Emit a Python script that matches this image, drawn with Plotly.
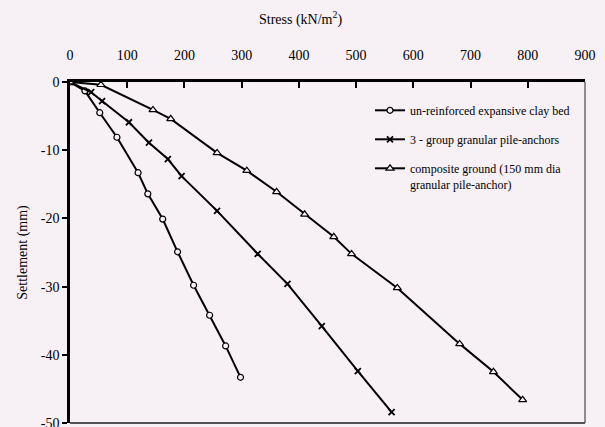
import plotly.graph_objects as go

# Stress (kN/m^2) vs settlement (mm) for three ground conditions
stress_clay = [0, 26, 52, 82, 119, 136, 162, 188, 216, 244, 272, 298]
settle_clay = [0, -1.3, -4.5, -8.1, -13.3, -16.4, -20.1, -24.9, -29.8, -34.2, -38.7, -43.3]

stress_group = [0, 37, 56, 103, 138, 171, 195, 257, 328, 380, 440, 503, 562]
settle_group = [0, -1.5, -2.8, -5.9, -8.9, -11.3, -13.8, -18.9, -25.2, -29.6, -35.8, -42.4, -48.4]

stress_comp = [0, 54, 145, 176, 257, 309, 361, 410, 461, 492, 572, 681, 740, 791]
settle_comp = [0, -0.4, -4.1, -5.4, -10.4, -13.0, -16.1, -19.4, -22.7, -25.2, -30.2, -38.4, -42.5, -46.6]

x_ticks = [0, 100, 200, 300, 400, 500, 600, 700, 800, 900]
y_ticks = [0, -10, -20, -30, -40, -50]

names = [
    "un-reinforced expansive clay bed",
    "3 - group granular pile-anchors",
    "composite ground (150 mm dia<br>granular pile-anchor)",
]

BG = "#f7f0f4"
FONT = "Times New Roman, Liberation Serif, DejaVu Serif, serif"

fig = go.Figure()
fig.add_trace(go.Scatter(
    x=stress_clay, y=settle_clay, name=names[0], mode="lines+markers",
    line=dict(color="black", width=2),
    marker=dict(symbol="circle", size=6, color=BG, line=dict(color="black", width=1.2)),
    legendgroup="a",
))
fig.add_trace(go.Scatter(
    x=stress_group, y=settle_group, name=names[1], mode="lines+markers",
    line=dict(color="black", width=2),
    marker=dict(symbol="x-thin-open", size=6, color="black", line=dict(color="black", width=1.8)),
    legendgroup="b",
))
fig.add_trace(go.Scatter(
    x=stress_comp, y=settle_comp, name=names[2], mode="lines+markers",
    line=dict(color="black", width=2),
    marker=dict(symbol="triangle-up", size=7, color=BG, line=dict(color="black", width=1.2)),
    legendgroup="c",
))

# thin right and bottom frame edges
fig.add_shape(type="line", xref="paper", yref="paper", x0=1, x1=1, y0=0, y1=1,
              line=dict(color="#6a6a6a", width=1.5))
fig.add_shape(type="line", xref="paper", yref="paper", x0=0, x1=1, y0=0, y1=0,
              line=dict(color="#555555", width=2))

fig.add_annotation(text="Stress (kN/m<sup>2</sup>)", xref="paper", yref="paper",
                   x=(300 - 70) / 515, y=(423 - 19) / 341, xanchor="center", yanchor="middle",
                   showarrow=False, font=dict(family=FONT, size=14, color="black"))

fig.update_layout(
    width=605, height=427,
    margin=dict(l=70, r=20, t=82, b=4, autoexpand=False),
    paper_bgcolor=BG, plot_bgcolor=BG,
    font=dict(family=FONT, size=13, color="black"),
    showlegend=True,
    legend=dict(
        x=(370 - 70) / 515, y=(423 - 96) / 341, xanchor="left", yanchor="top",
        bgcolor="rgba(0,0,0,0)", font=dict(family=FONT, size=12, color="black"),
        tracegroupgap=10, valign="top", itemwidth=30,
    ),
    xaxis=dict(
        side="top", range=[0, 900], tickvals=x_ticks, ticktext=[str(v) for v in x_ticks],
        showgrid=False, zeroline=False, showline=True, linecolor="black", linewidth=2.5,
        ticks="inside", ticklen=6, tickwidth=2, tickcolor="black",
        tickfont=dict(family=FONT, size=14), ticklabelstandoff=14,
        ticklabeloverflow="allow", automargin=False,
    ),
    yaxis=dict(
        range=[-50, 0], tickvals=y_ticks, ticktext=[str(v) for v in y_ticks],
        showgrid=False, zeroline=False, showline=True, linecolor="black", linewidth=2.5,
        ticks="outside", ticklen=5, tickwidth=2, tickcolor="black",
        tickfont=dict(family=FONT, size=14), ticklabeloverflow="allow", automargin=False,
        title=dict(text="Settlement (mm)", font=dict(family=FONT, size=14), standoff=10),
    ),
)

fig.write_html("out.html")
